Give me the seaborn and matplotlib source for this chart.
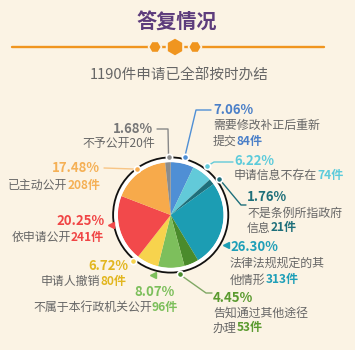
import matplotlib
matplotlib.use("Agg")
import matplotlib.pyplot as plt
import seaborn as sns
from matplotlib.patches import RegularPolygon, Circle

sns.set_theme(style="white")
plt.rcParams['font.family'] = ['Noto Sans CJK SC', 'DejaVu Sans']

# ---------------- data ----------------
categories = ["需要修改补正后重新提交", "申请信息不存在", "不是条例所指政府信息",
              "法律法规规定的其他情形", "告知通过其他途径办理", "不属于本行政机关公开",
              "申请人撤销", "依申请公开", "已主动公开", "不予公开"]
percents = [7.06, 6.22, 1.76, 26.30, 4.45, 8.07, 6.72, 20.25, 17.48, 1.68]
counts = [84, 74, 21, 313, 53, 96, 80, 241, 208, 20]
slice_colors = ["#4f8fd5", "#62cad9", "#1e6f7b", "#1c9db3", "#4a8b2c",
                "#7dbf5c", "#f7d34d", "#f2494b", "#f7aa4b", "#8c8c8c"]
text_colors = ["#4a7fc8", "#5ccbdb", "#1e6f7a", "#1f9fb8", "#5a9a2f",
               "#7cbf5b", "#e2b61f", "#f04545", "#f5b055", "#777777"]
title = "答复情况"
subtitle = "1190件申请已全部按时办结"

BG = "#fbf3e4"
W, H = 355, 350
fig = plt.figure(figsize=(W / 100, H / 100), dpi=100, facecolor=BG)
ax = fig.add_axes([0, 0, 1, 1])
ax.set_xlim(0, W)
ax.set_ylim(0, H)
ax.set_aspect("equal")
ax.axis("off")
ax.set_facecolor(BG)


def Y(y):
    return H - y


# title area
ax.text(177, Y(22), title, ha="center", va="center", fontsize=14.5,
        fontweight="bold", color="#5d3c7c")
ax.plot([12, 324], [Y(47), Y(47)], color="#f0951f", lw=1.7, solid_capstyle="round")
ax.add_patch(RegularPolygon((175, Y(47)), 6, radius=9.5, orientation=0,
                            facecolor="#f0951f", edgecolor=BG, lw=1.5, zorder=3))
for hx in (155, 195):
    ax.add_patch(RegularPolygon((hx, Y(47)), 6, radius=6.5, orientation=0.52,
                                facecolor="#f0951f", edgecolor=BG, lw=1.2, zorder=3))
ax.text(179, Y(76), subtitle, ha="center", va="center", fontsize=10.5, color="#666666")

# pie
cx, cy, R = 170.7, 215, 53
ax.pie(percents, colors=slice_colors, startangle=90, counterclock=False,
       center=(cx, Y(cy)), radius=R, wedgeprops=dict(linewidth=0))
ax.set_xlim(0, W)
ax.set_ylim(0, H)
ax.add_patch(Circle((cx, Y(cy)), R + 1.6, fill=False, edgecolor="white", lw=2.6, zorder=4))
ax.add_patch(Circle((cx, Y(cy)), R + 4.6, fill=False, edgecolor="#111111", lw=1.3, zorder=4))

# markers on ring (annotation layout)
dots = {0: (185, 157), 1: (207, 166), 2: (219, 179), 4: (180, 274),
        6: (133, 261), 8: (137, 169), 9: (169, 157)}
for i, (dx, dy) in dots.items():
    ax.plot(dx, Y(dy), "o", ms=4.5, mfc=slice_colors[i], mec="white", mew=1.2, zorder=6)
tris = {7: ((111, 225), "<"), 5: ((153, 275), "<"), 3: ((226, 245), "<")}
for i, ((tx, ty), m) in tris.items():
    ax.plot(tx, Y(ty), m, ms=5, color=slice_colors[i], mec=slice_colors[i], zorder=6)

# leader lines
leaders = {
    9: [(157, 129), (168, 129), (168.5, 154)],
    8: [(104, 168), (134, 169)],
    0: [(185.5, 154), (196, 110), (211, 110)],
    1: [(209, 165), (214, 162), (233, 162)],
    2: [(221, 181), (241, 205), (246, 205)],
    4: [(182, 276), (206, 293), (212, 293)],
}
line_cols = {9: "#888888", 8: "#f8c585", 0: "#4f8fd5", 1: "#62cad9",
             2: "#1e6f7b", 4: "#80a865"}
for i, pts in leaders.items():
    xs = [p[0] for p in pts]
    ys = [Y(p[1]) for p in pts]
    ax.plot(xs, ys, color=line_cols[i], lw=1.0, zorder=5)

fig.canvas.draw()
renderer = fig.canvas.get_renderer()

FS_P = 9.5
FS_T = 8.6
GRAY = "#666666"


def width(t):
    return t.get_window_extent(renderer).width


def mixed(x, y, plain, colored, col, align):
    """plain gray text + colored bold count"""
    if align == "right":
        t2 = ax.text(x, Y(y), colored, ha="right", va="center", fontsize=FS_T,
                     color=col, fontweight="bold")
        w = width(t2)
        ax.text(x - w, Y(y), plain, ha="right", va="center", fontsize=FS_T, color=GRAY)
    else:
        t1 = ax.text(x, Y(y), plain, ha="left", va="center", fontsize=FS_T, color=GRAY)
        w = width(t1)
        ax.text(x + w, Y(y), colored, ha="left", va="center", fontsize=FS_T,
                color=col, fontweight="bold")


def pct(x, y, i, align):
    ax.text(x, Y(y), f"{percents[i]:.2f}%", ha=align, va="center", fontsize=FS_P,
            color=text_colors[i], fontweight="bold")


def cnt(i):
    return f"{counts[i]}件"


# left side labels (right aligned)
pct(153, 129, 9, "right")
ax.text(155, Y(143), "不予公开" + cnt(9), ha="right", va="center", fontsize=FS_T, color=GRAY)
pct(100, 168, 8, "right")
mixed(100, 185, "已主动公开", cnt(8), text_colors[8], "right")
pct(105, 221, 7, "right")
mixed(104, 237, "依申请公开", cnt(7), text_colors[7], "right")
pct(128, 266, 6, "right")
mixed(126, 281, "申请人撤销", cnt(6), text_colors[6], "right")
pct(175, 292, 5, "right")
mixed(178, 307, "不属于本行政机关公开", cnt(5), text_colors[5], "right")

# right side labels (left aligned)
pct(213, 110, 0, "left")
ax.text(213, Y(125), "需要修改补正后重新", ha="left", va="center", fontsize=FS_T, color=GRAY)
mixed(213, 141, "提交", cnt(0), text_colors[0], "left")
pct(234, 161, 1, "left")
mixed(234, 175, "申请信息不存在", cnt(1), text_colors[1], "left")
pct(247, 197, 2, "left")
ax.text(247, Y(213), "不是条例所指政府", ha="left", va="center", fontsize=FS_T, color=GRAY)
mixed(247, 228, "信息", cnt(2), text_colors[2], "left")
pct(230, 247, 3, "left")
ax.text(230, Y(263), "法律法规规定的其", ha="left", va="center", fontsize=FS_T, color=GRAY)
mixed(230, 280, "他情形", cnt(3), text_colors[3], "left")
pct(213, 298, 4, "left")
ax.text(213, Y(313), "告知通过其他途径", ha="left", va="center", fontsize=FS_T, color=GRAY)
mixed(213, 328, "办理", cnt(4), text_colors[4], "left")

fig.savefig("out.png", dpi=100, facecolor=BG)
